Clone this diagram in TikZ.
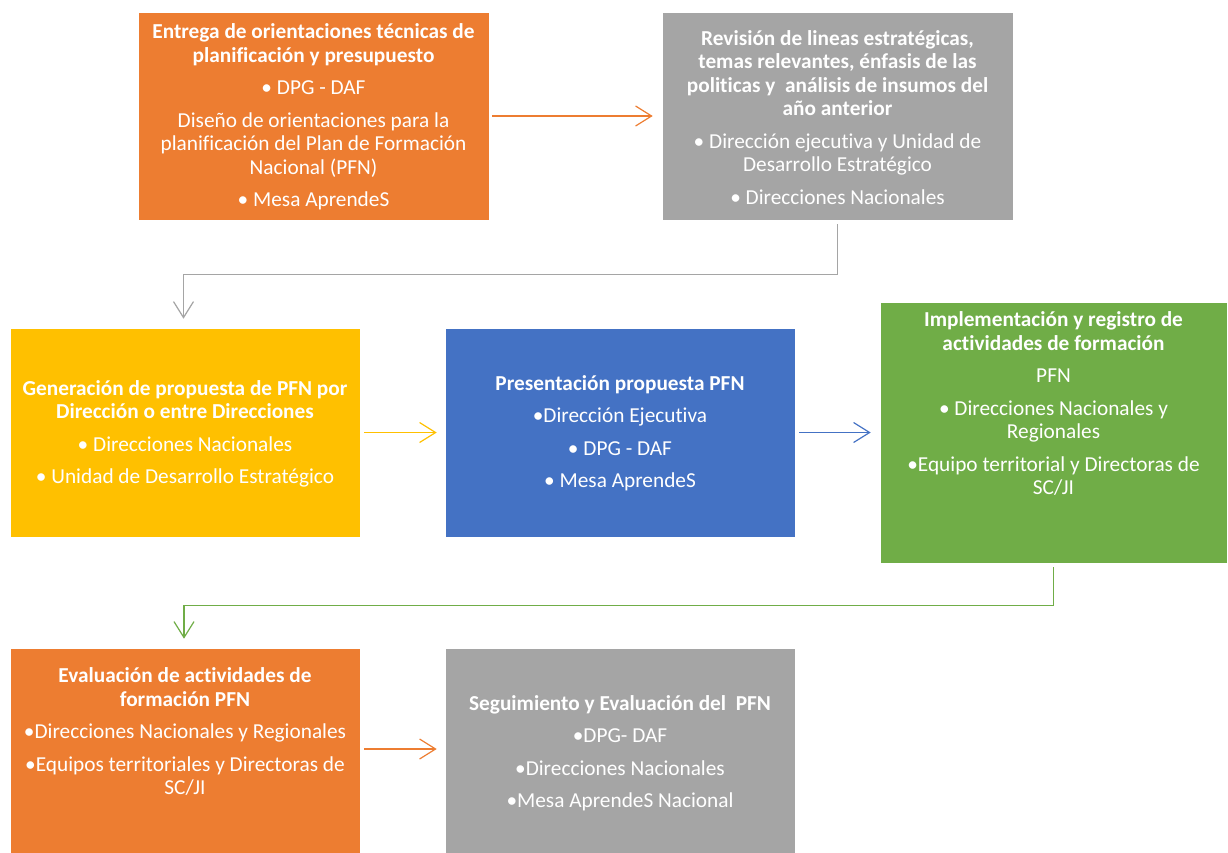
\documentclass[tikz,border=0pt]{standalone}
\usepackage{fontspec}
\setmainfont[Ligatures=CommonOff]{Carlito}
\usetikzlibrary{arrows.meta}
\definecolor{corange}{HTML}{ED7D31}
\definecolor{cgray}{HTML}{A5A5A5}
\definecolor{cyellow}{HTML}{FFC000}
\definecolor{cblue}{HTML}{4472C4}
\definecolor{cgreen}{HTML}{70AD47}
\begin{document}
\begin{tikzpicture}[x=1pt,y=-1pt,
  box/.style={rectangle, draw=white, line width=0.6pt, inner sep=0pt},
  txt/.style={text=white, align=center, inner sep=0pt, font=\fontsize{21.3}{23.5}\selectfont},
  conn/.style={line width=1.2pt, -{Straight Barb[length=16pt,width=20pt,line width=1.2pt]}}
]
\useasboundingbox (0,0) rectangle (1228,852);
% boxes
\node[box, fill=corange, minimum width=351pt, minimum height=208pt] (b1) at (313.5,116) {};
\node[box, fill=cgray, minimum width=351pt, minimum height=208pt] (b2) at (837.5,116) {};
\node[box, fill=cyellow, minimum width=350pt, minimum height=209pt] (b3) at (185,432.5) {};
\node[box, fill=cblue, minimum width=350pt, minimum height=209pt] (b4) at (620,432.5) {};
\node[box, fill=cgreen, minimum width=347pt, minimum height=261pt] (b5) at (1053.5,432.5) {};
\node[box, fill=corange, minimum width=350pt, minimum height=206pt] (b6) at (185,751) {};
\node[box, fill=cgray, minimum width=350pt, minimum height=206pt] (b7) at (620,751) {};
% texts
\node[txt] (t1) at (313.5,117) {\textbf{Entrega de orientaciones técnicas de}\\\textbf{planificación y presupuesto}\\[9pt]• DPG - DAF\\[9pt]Diseño de orientaciones para la\\planificación del Plan de Formación\\Nacional (PFN)\\[9pt]• Mesa AprendeS};
\node[txt] (t2) at (837.5,117.5) {\textbf{Revisión de lineas estratégicas,}\\\textbf{temas relevantes, énfasis de las}\\\textbf{politicas y\ \ análisis de insumos del}\\\textbf{año anterior}\\[9pt]• Dirección ejecutiva y Unidad de\\Desarrollo Estratégico\\[9pt]• Direcciones Nacionales};
\node[txt] (t3) at (185,434) {\textbf{Generación de propuesta de PFN por}\\\textbf{Dirección o entre Direcciones}\\[9pt]• Direcciones Nacionales\\[9pt]• Unidad de Desarrollo Estratégico};
\node[txt] (t4) at (620,433) {\textbf{Presentación propuesta PFN}\\[9pt]•Dirección Ejecutiva\\[9pt]• DPG - DAF\\[9pt]• Mesa AprendeS};
\node[txt] (t5) at (1053.5,403.5) {\textbf{Implementación y registro de}\\\textbf{actividades de formación}\\[9pt]PFN\\[9pt]• Direcciones Nacionales y\\Regionales\\[9pt]•Equipo territorial y Directoras de\\SC/JI};
\node[txt] (t6) at (185,731.5) {\textbf{Evaluación de actividades de}\\\textbf{formación PFN}\\[9pt]•Direcciones Nacionales y Regionales\\[9pt]•Equipos territoriales y Directoras de\\SC/JI};
\node[txt] (t7) at (620,753) {\textbf{Seguimiento y Evaluación del\ \ PFN}\\[9pt]•DPG- DAF\\[9pt]•Direcciones Nacionales\\[9pt]•Mesa AprendeS Nacional};
% connectors
\draw[conn, corange] ([xshift=3pt]b1.east) -- ([xshift=-9pt]b2.west);
\draw[conn, cgray] ([yshift=-4pt]b2.south) -- ++(0,50) -| ([xshift=-1.5pt,yshift=9pt]b3.north);
\draw[conn, cyellow] ([xshift=4pt]b3.east) -- ([xshift=-8pt]b4.west);
\draw[conn, cblue] ([xshift=4pt]b4.east) -- ([xshift=-9pt]b5.west);
\draw[conn, cgreen] ([yshift=-4pt]b5.south) -- ++(0,38) -| ([xshift=-1pt,yshift=9pt]b6.north);
\draw[conn, corange] ([xshift=4pt,yshift=2pt]b6.east) -- ([xshift=-8pt,yshift=2pt]b7.west);
\end{tikzpicture}
\end{document}
